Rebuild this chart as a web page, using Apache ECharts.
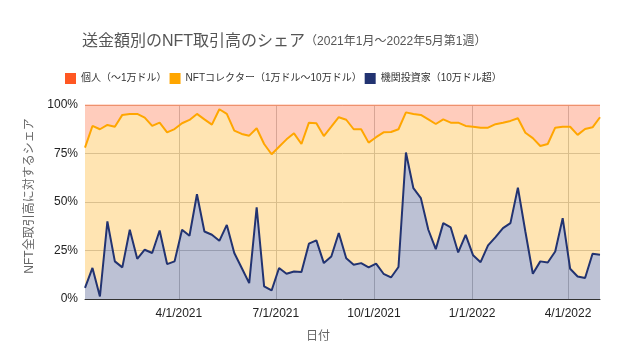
<!DOCTYPE html>
<html>
<head>
<meta charset="utf-8">
<script src="https://cdn.jsdelivr.net/npm/echarts@6/dist/echarts.min.js"></script>
<style>
html,body{margin:0;padding:0;background:#fff;}
#chart{width:624px;height:360px;}
</style>
</head>
<body>
<div id="chart"></div>
<script>
// Weekly dates (Sundays)
const weeks = [
  '2021-01-03','2021-01-10','2021-01-17','2021-01-24','2021-01-31',
  '2021-02-07','2021-02-14','2021-02-21','2021-02-28',
  '2021-03-07','2021-03-14','2021-03-21','2021-03-28',
  '2021-04-04','2021-04-11','2021-04-18','2021-04-25',
  '2021-05-02','2021-05-09','2021-05-16','2021-05-23','2021-05-30',
  '2021-06-06','2021-06-13','2021-06-20','2021-06-27',
  '2021-07-04','2021-07-11','2021-07-18','2021-07-25',
  '2021-08-01','2021-08-08','2021-08-15','2021-08-22','2021-08-29',
  '2021-09-05','2021-09-12','2021-09-19','2021-09-26',
  '2021-10-03','2021-10-10','2021-10-17','2021-10-24','2021-10-31',
  '2021-11-07','2021-11-14','2021-11-21','2021-11-28',
  '2021-12-05','2021-12-12','2021-12-19','2021-12-26',
  '2022-01-02','2022-01-09','2022-01-16','2022-01-23','2022-01-30',
  '2022-02-06','2022-02-13','2022-02-20','2022-02-27',
  '2022-03-06','2022-03-13','2022-03-20','2022-03-27',
  '2022-04-03','2022-04-10','2022-04-17','2022-04-24',
  '2022-05-01'
];

// Share (%) of institutional investors (> $100k)
const institutional = [
  5.7,16,1.3,40,19.4,16.3,35.7,20.7,25.4,23.7,
  35.3,18,19.4,35.7,32.6,54,34.8,33.1,30,38.2,
  23.7,16,8.2,47.3,6.5,4.4,16,13,14.2,13.9,
  28.5,30.2,18.5,21.9,34,21,17.7,18.5,16.3,18.2,
  13,11.1,16.5,75.5,57.1,52,35.7,25.7,39.1,36.9,
  24,33.1,22.5,19,27.6,31.9,36.5,39.1,57.4,34.8,
  13,19.4,18.8,24.5,41.7,15.6,11.6,10.8,23.3,22.8
];

// Share (%) of NFT collectors ($10k - $100k)
const collector = [
  72.3,73.2,86.2,49.7,69.4,78.6,59.7,74.7,68.1,65.5,
  55.6,67.9,68.2,54.9,59.7,41.4,57.8,56.8,67.8,57.2,
  63.1,69.1,76,40.7,73.4,70.2,62.5,69.3,71.2,66,
  62.4,60.4,65.5,66.9,59.7,71.4,69.8,69,64.3,65.2,
  72.9,75,71,20.7,38.3,42.9,56.9,64.5,53.5,54,
  66.9,56.1,66.3,69.3,60.7,58.2,54.4,52.7,35.8,50.9,
  69.9,59.5,61.1,63.8,47.1,73.2,73,76.8,65.2,70.9
];

// Share (%) of individuals (< $10k)
const individual = [
  22,10.8,12.5,10.3,11.2,5.1,4.6,4.6,6.5,10.8,
  9.1,14.1,12.4,9.4,7.7,4.6,7.4,10.1,2.2,4.6,
  13.2,14.9,15.8,12,20.1,25.4,21.5,17.7,14.6,20.1,
  9.1,9.4,16,11.2,6.3,7.6,12.5,12.5,19.4,16.6,
  14.1,13.9,12.5,3.8,4.6,5.1,7.4,9.8,7.4,9.1,
  9.1,10.8,11.2,11.7,11.7,9.9,9.1,8.2,6.8,14.3,
  17.1,21.1,20.1,11.7,11.2,11.2,15.4,12.4,11.5,6.3
];

const seriesNames = ['個人（～1万ドル）', 'NFTコレクター（1万ドル～10万ドル）', '機関投資家（10万ドル超）'];
const xTickDates = ['2021-04-01', '2021-07-01', '2021-10-01', '2022-01-01', '2022-04-01'];

const FONT = "Arial, 'Liberation Sans', 'Noto Sans CJK JP', sans-serif";
const ts = s => { const p = s.split('-').map(Number); return new Date(p[0], p[1] - 1, p[2]).getTime(); };
const pair = arr => arr.map((v, i) => [ts(weeks[i]), v]);
const xMin = ts(weeks[0]);
const xMax = ts(weeks[weeks.length - 1]);

const chart = echarts.init(document.getElementById('chart'), null, {renderer: 'canvas'});

function mkSeries(name, values, color, lineColor, width) {
  return {
    name: name,
    type: 'line',
    stack: 'total',
    xAxisIndex: 0,
    data: pair(values),
    symbol: 'none',
    color: color,
    lineStyle: {width: width, color: lineColor},
    areaStyle: {color: color, opacity: 0.3}
  };
}

chart.setOption({
  animation: false,
  textStyle: {fontFamily: FONT},
  title: {
    text: '{a|送金額別のNFT取引高のシェア}{b|（2021年1月～2022年5月第1週）}',
    left: 82,
    top: 34,
    padding: 0,
    textStyle: {
      fontWeight: 'normal',
      rich: {
        a: {fontSize: 16, color: '#555', fontWeight: 'normal', fontFamily: FONT},
        b: {fontSize: 12, color: '#555', fontWeight: 'normal', fontFamily: FONT}
      }
    }
  },
  legend: {
    data: seriesNames,
    left: 65,
    top: 73,
    padding: 0,
    itemGap: 3,
    itemWidth: 11,
    itemHeight: 11,
    icon: 'rect',
    textStyle: {fontSize: 10, color: '#333', fontFamily: FONT}
  },
  grid: {left: 85, right: 24, top: 105, bottom: 61},
  xAxis: [
    {
      type: 'time',
      show: false,
      min: xMin,
      max: xMax
    },
    {
      type: 'value',
      position: 'bottom',
      min: xMin,
      max: xMax,
      axisLine: {show: true, onZero: false, lineStyle: {color: '#333', width: 1}},
      axisTick: {show: false, customValues: xTickDates.map(ts)},
      axisLabel: {
        customValues: xTickDates.map(ts),
        color: '#222',
        fontSize: 12,
        margin: 9,
        fontFamily: FONT,
        formatter: function (v) {
          const d = new Date(v);
          return (d.getMonth() + 1) + '/' + d.getDate() + '/' + d.getFullYear();
        }
      },
      splitLine: {show: true, lineStyle: {color: '#c8c8c8', width: 1}}
    }
  ],
  yAxis: {
    type: 'value',
    min: 0,
    max: 100,
    interval: 25,
    axisLine: {show: false},
    axisTick: {show: false},
    axisLabel: {color: '#222', fontSize: 12, margin: 7, fontFamily: FONT, formatter: '{value}%'},
    splitLine: {show: true, lineStyle: {color: '#cccccc', width: 1}}
  },
  graphic: [
    {
      type: 'text',
      x: 30, y: 196,
      rotation: Math.PI / 2,
      style: {text: 'NFT全取引高に対するシェア', fill: '#666', fontSize: 12, fontFamily: FONT, align: 'center', verticalAlign: 'middle'}
    },
    {
      type: 'text',
      x: 318, y: 337,
      style: {text: '日付', fill: '#666', fontSize: 12, fontFamily: FONT, align: 'center', verticalAlign: 'middle'}
    }
  ],
  series: [
    mkSeries(seriesNames[2], institutional, '#223371', '#223371', 2),
    mkSeries(seriesNames[1], collector, '#ffa600', '#ffa600', 2),
    mkSeries(seriesNames[0], individual, '#ff5722', '#ff7a45', 1.2)
  ]
});
</script>
</body>
</html>
